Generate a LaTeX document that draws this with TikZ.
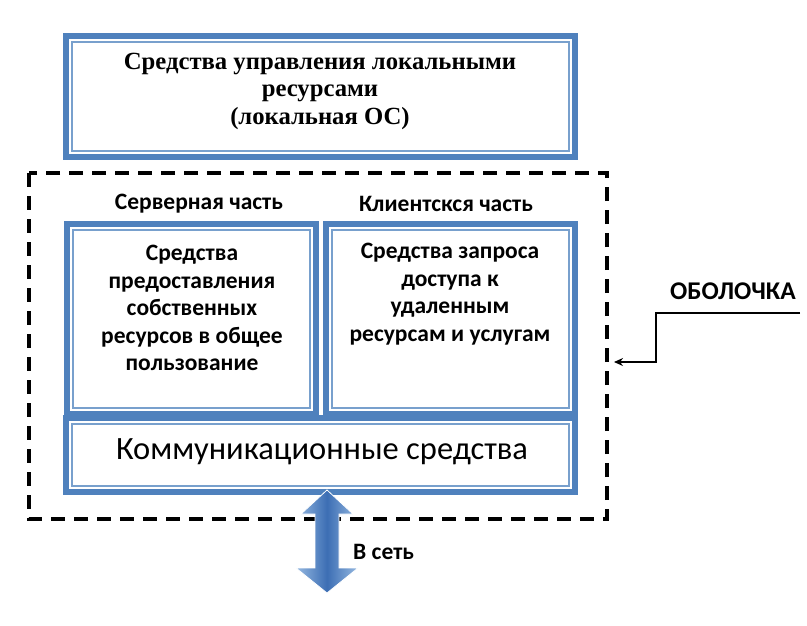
\documentclass[tikz,border=0pt]{standalone}
\usepackage{fontspec}
\setmainfont{Liberation Serif}
\newfontfamily\calfont{Carlito}
\usetikzlibrary{arrows.meta}
\definecolor{frameblue}{RGB}{79,129,189}
\definecolor{linelight}{RGB}{120,160,205}
\definecolor{arrdark}{RGB}{60,110,180}
\definecolor{arrlight}{RGB}{150,185,225}
\tikzset{
  framebox/.style={draw=frameblue, line width=6pt},
  frameinner/.style={draw=linelight, line width=1.3pt},
  shell/.style={draw=black, line width=3.5pt, dash pattern=on 14pt off 9pt},
  pointer/.style={draw=black, line width=1.3pt, -{Stealth[length=9pt,width=8pt]}},
  lbl/.style={inner sep=0pt, align=center},
  sanstext/.style={font={\calfont\fontsize{23.5}{27.5}\selectfont\bfseries}},
}
\begin{document}
\begin{tikzpicture}[x=1pt,y=-1pt]
\useasboundingbox (0,0) rectangle (807,625);
% top box
\path[framebox] (66,36) rectangle (575,157);
\path[frameinner] (72,42) rectangle (569,151);
\node[lbl, font={\fontsize{24.7}{27.5}\selectfont\bfseries}] (os) at (320,91)
  {Средства управления локальными\\ресурсами\\(локальная ОС)};
% shell
\path[shell] (29,173) rectangle (607,519);
% headers
\node[lbl, sanstext] (srvh) at (199,204) {Серверная часть};
\node[lbl, sanstext] (clih) at (446,204) {Клиентскся часть};
% server box
\path[framebox] (67,224) rectangle (316,414);
\path[frameinner] (73,230) rectangle (310,408);
\node[lbl, sanstext] (srv) at (192,308)
  {Средства\\предоставления\\собственных\\ресурсов в общее\\пользование};
% client box
\path[framebox] (326,224) rectangle (575,414);
\path[frameinner] (332,230) rectangle (569,408);
\node[lbl, sanstext] (cli) at (450,294)
  {Средства запроса\\доступа к\\удаленным\\ресурсам и услугам};
% communication box
\path[framebox] (66,418) rectangle (575,492);
\path[frameinner] (72,424) rectangle (569,486);
\node[lbl, font={\calfont\fontsize{32.5}{36}\selectfont}] (comm) at (322,452) {Коммуникационные средства};
% double arrow
\path[draw=white, line width=0.8pt, left color=arrlight, right color=arrlight, middle color=arrdark]
  (327,490) -- (353,514) -- (339,514) -- (339,568) -- (358,568) -- (327,593)
  -- (296,568) -- (315,568) -- (315,514) -- (301,514) -- cycle;
\node[lbl, anchor=west, sanstext] (net) at (353,552) {В сеть};
% shell label
\node[lbl, font={\calfont\fontsize{25.5}{28}\selectfont\bfseries}] (shl) at (733,291) {ОБОЛОЧКА};
\coordinate (p0) at (800,313);
\coordinate (p1) at (656,313);
\coordinate (p2) at (656,362);
\coordinate (p3) at (614,362);
\draw[pointer] (p0) -- (p1) -- (p2) -- (p3);
\end{tikzpicture}
\end{document}
